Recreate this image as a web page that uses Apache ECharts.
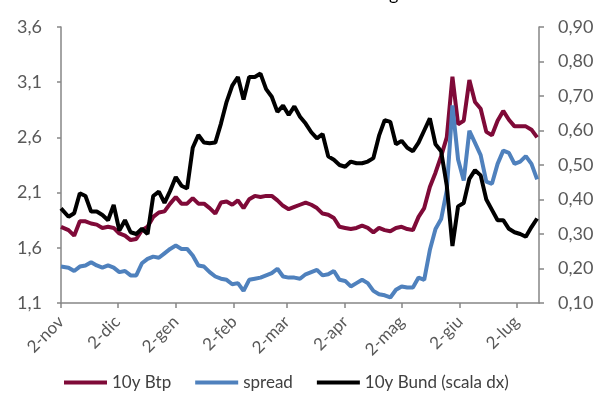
<!DOCTYPE html>
<html>
<head>
<meta charset="utf-8">
<script src="https://cdn.jsdelivr.net/npm/echarts@6/dist/echarts.min.js"></script>
<style>
  html, body { margin: 0; padding: 0; background: #fff; }
</style>
</head>
<body>
<div id="main" style="width: 599px;height:394px;"></div>
<script>
// date di rilevazione (ogni 3 giorni circa)
const dates = [
  '2017-11-02', '2017-11-03', '2017-11-06', '2017-11-09', '2017-11-12', '2017-11-15', '2017-11-18', '2017-11-21',
  '2017-11-24', '2017-11-27', '2017-11-30', '2017-12-03', '2017-12-06', '2017-12-09', '2017-12-12', '2017-12-15',
  '2017-12-18', '2017-12-21', '2017-12-24', '2017-12-27', '2017-12-30', '2018-01-02',
  '2018-01-05', '2018-01-08', '2018-01-11', '2018-01-14', '2018-01-17', '2018-01-20', '2018-01-23', '2018-01-26',
  '2018-01-29', '2018-02-01', '2018-02-04', '2018-02-07', '2018-02-10', '2018-02-13', '2018-02-16', '2018-02-19',
  '2018-02-22', '2018-02-25', '2018-02-28', '2018-03-03',
  '2018-03-06', '2018-03-09', '2018-03-12', '2018-03-15', '2018-03-18', '2018-03-21', '2018-03-24', '2018-03-27',
  '2018-03-30', '2018-04-02', '2018-04-05', '2018-04-08', '2018-04-11', '2018-04-14', '2018-04-17', '2018-04-20',
  '2018-04-23', '2018-04-26', '2018-04-29', '2018-05-02',
  '2018-05-05', '2018-05-08', '2018-05-11', '2018-05-14', '2018-05-17', '2018-05-20', '2018-05-23', '2018-05-26',
  '2018-05-29', '2018-06-01', '2018-06-04', '2018-06-07', '2018-06-10', '2018-06-13', '2018-06-16', '2018-06-19',
  '2018-06-22', '2018-06-25', '2018-06-28', '2018-07-01', '2018-07-04', '2018-07-07', '2018-07-10', '2018-07-13'
]

const btp10y = [
  1.79, 1.79, 1.76, 1.71, 1.84, 1.84, 1.82, 1.81, 1.78, 1.79, 1.78, 1.73, 1.71, 1.67, 1.68, 1.76,
  1.79, 1.88, 1.92, 1.93, 2.00, 2.06,
  2.00, 2.00, 2.05, 2.00, 2.00, 1.96, 1.91, 2.01, 2.02, 1.99, 2.03, 1.96, 2.04, 2.07, 2.06, 2.07,
  2.07, 2.03, 1.98, 1.95,
  1.97, 1.99, 2.01, 1.99, 1.96, 1.91, 1.90, 1.87, 1.79, 1.78, 1.77, 1.78, 1.80, 1.78, 1.74, 1.78,
  1.76, 1.75, 1.78, 1.79,
  1.77, 1.76, 1.88, 1.96, 2.15, 2.28, 2.43, 2.60, 3.15, 2.72, 2.75, 3.12, 2.92, 2.86, 2.65, 2.62,
  2.75, 2.84, 2.76, 2.70, 2.70, 2.70, 2.67, 2.60
]

const spread = [
  1.43, 1.43, 1.42, 1.39, 1.43, 1.44, 1.47, 1.44, 1.42, 1.44, 1.42, 1.38, 1.39, 1.35, 1.35, 1.46,
  1.50, 1.52, 1.51, 1.55, 1.59, 1.62,
  1.59, 1.59, 1.53, 1.44, 1.43, 1.38, 1.34, 1.32, 1.31, 1.27, 1.28, 1.21, 1.31, 1.32, 1.33, 1.35,
  1.37, 1.41, 1.34, 1.33,
  1.33, 1.32, 1.36, 1.38, 1.40, 1.35, 1.36, 1.39, 1.31, 1.30, 1.25, 1.28, 1.31, 1.28, 1.21, 1.18,
  1.17, 1.15, 1.22, 1.25,
  1.24, 1.24, 1.33, 1.31, 1.58, 1.77, 1.86, 2.12, 2.89, 2.40, 2.21, 2.66, 2.55, 2.44, 2.20, 2.18,
  2.36, 2.48, 2.46, 2.36, 2.38, 2.43, 2.36, 2.22
]

// scala dx
const bund10y = [
  0.374, 0.37, 0.35, 0.36, 0.418, 0.41, 0.365, 0.365, 0.355, 0.34, 0.384, 0.31, 0.34, 0.305, 0.30, 0.315,
  0.30, 0.41, 0.423, 0.39, 0.425, 0.465,
  0.44, 0.432, 0.55, 0.587, 0.565, 0.563, 0.565, 0.62, 0.683, 0.73, 0.755, 0.69, 0.755, 0.755, 0.765, 0.72,
  0.698, 0.654, 0.672, 0.645,
  0.67, 0.64, 0.62, 0.595, 0.577, 0.59, 0.525, 0.515, 0.50, 0.495, 0.51, 0.505, 0.505, 0.51, 0.52, 0.585,
  0.63, 0.625, 0.56, 0.57,
  0.55, 0.54, 0.565, 0.60, 0.635, 0.56, 0.54, 0.44, 0.265, 0.38, 0.39, 0.46, 0.485, 0.47, 0.40, 0.37,
  0.34, 0.34, 0.315, 0.305, 0.30, 0.292, 0.32, 0.345
]

const tickDates = ['2017-11-02', '2017-12-02', '2018-01-02', '2018-02-02', '2018-03-02',
  '2018-04-02', '2018-05-02', '2018-06-02', '2018-07-02']
const tickLabels = ['2-nov', '2-dic', '2-gen', '2-feb', '2-mar', '2-apr', '2-mag', '2-giu', '2-lug']
const leftTicks = [1.1, 1.6, 2.1, 2.6, 3.1, 3.6]
const rightTicks = [0.1, 0.2, 0.3, 0.4, 0.5, 0.6, 0.7, 0.8, 0.9]

// giorni dal 2 novembre (asse x numerico)
const dayOf = s => {
  const p = s.split('-')
  return Math.round((Date.UTC(+p[0], +p[1] - 1, +p[2]) - Date.UTC(2017, 10, 2)) / 86400000)
}
const tickDays = tickDates.map(dayOf)

const zip = vals => dates.map((d, i) => [dayOf(d), vals[i]])

const axisColor = '#868686'
const labelColor = '#595959'
const font = 'Lato'

const option = {
  animation: false,
  textStyle: { fontFamily: font },
  graphic: [
    { type: 'text', left: 389, top: -15, style: { text: 'g', font: '18px Lato', fill: '#000' } }
  ],
  grid: { left: 61, right: 60, top: 27, bottom: 91, containLabel: false },
  legend: {
    left: 64,
    top: 374,
    padding: 0,
    icon: 'rect',
    itemWidth: 43,
    itemHeight: 4,
    itemGap: 24,
    textStyle: { fontFamily: font, fontSize: 17, color: '#404040' },
    data: ['10y Btp', 'spread', '10y Bund (scala dx)']
  },
  xAxis: {
    type: 'value',
    min: 0,
    max: dayOf('2018-07-14'),
    axisLine: { lineStyle: { color: axisColor, width: 1.5 } },
    axisTick: { show: true, length: 5, customValues: tickDays, lineStyle: { color: axisColor, width: 1.5 } },
    splitLine: { show: false },
    axisLabel: {
      customValues: tickDays,
      rotate: 45,
      margin: 16,
      fontFamily: font,
      fontSize: 17,
      color: labelColor,
      formatter: v => {
        const i = tickDays.indexOf(v)
        return i >= 0 ? tickLabels[i] : ''
      }
    }
  },
  yAxis: [
    {
      type: 'value',
      min: 1.1,
      max: 3.6,
      axisLine: { show: true, lineStyle: { color: axisColor, width: 1.5 } },
      axisTick: { show: true, length: 4, customValues: leftTicks, lineStyle: { color: axisColor, width: 1.5 } },
      splitLine: { show: false },
      axisLabel: {
        customValues: leftTicks,
        margin: 19,
        fontFamily: font,
        fontSize: 18,
        color: labelColor,
        formatter: v => v.toFixed(1).replace('.', ',')
      }
    },
    {
      type: 'value',
      min: 0.1,
      max: 0.9,
      position: 'right',
      axisLine: { show: true, lineStyle: { color: axisColor, width: 1.5 } },
      axisTick: { show: true, length: 5, customValues: rightTicks, lineStyle: { color: axisColor, width: 1.5 } },
      splitLine: { show: false },
      axisLabel: {
        customValues: rightTicks,
        margin: 19,
        fontFamily: font,
        fontSize: 18,
        color: labelColor,
        formatter: v => v.toFixed(2).replace('.', ',')
      }
    }
  ],
  series: [
    {
      name: '10y Btp',
      type: 'line',
      yAxisIndex: 0,
      showSymbol: false,
      color: '#7F0A38',
      lineStyle: { width: 4, color: '#7F0A38' },
      data: zip(btp10y)
    },
    {
      name: 'spread',
      type: 'line',
      yAxisIndex: 0,
      showSymbol: false,
      color: '#4F81BD',
      lineStyle: { width: 4, color: '#4F81BD' },
      data: zip(spread)
    },
    {
      name: '10y Bund (scala dx)',
      type: 'line',
      yAxisIndex: 1,
      showSymbol: false,
      color: '#000000',
      lineStyle: { width: 4, color: '#000000' },
      data: zip(bund10y)
    }
  ]
}

const myChart = echarts.init(document.getElementById('main'))
myChart.setOption(option)
</script>
</body>
</html>
